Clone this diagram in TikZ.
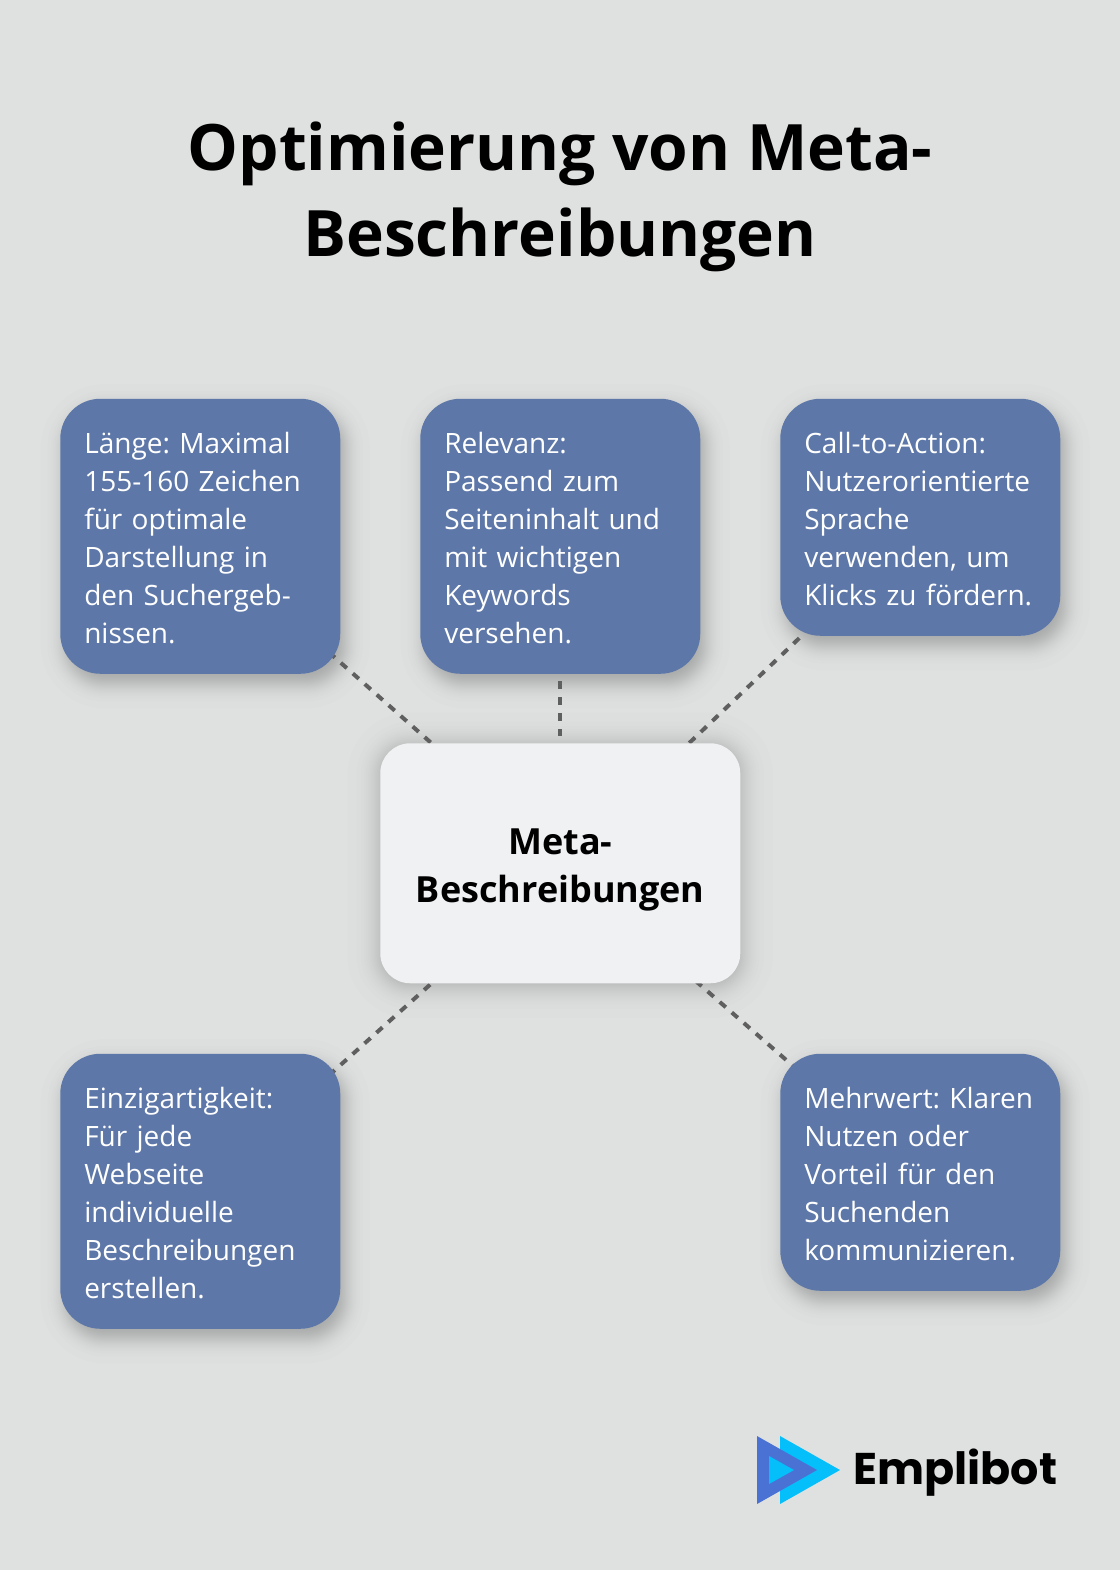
\documentclass[tikz,border=0pt]{standalone}
\usepackage{fontspec}
\setmainfont{Open Sans}
\newfontfamily\infofont{Open Sans}[WordSpace=0.75]
\newfontfamily\logofont{Poppins}
\usetikzlibrary{calc,backgrounds}
\definecolor{pagegrey}{HTML}{DFE1E0}
\definecolor{boxblue}{HTML}{5D77A8}
\definecolor{centerwhite}{HTML}{EFF1F3}
\definecolor{dashgrey}{HTML}{5F5F5F}
\definecolor{logoblue}{HTML}{4A72D4}
\definecolor{logocyan}{HTML}{04BFF9}
\tikzset{
	infobox/.style={fill=boxblue,text=white,rounded corners=30pt,anchor=north west,inner sep=0pt,
		minimum width=210pt,text width=174pt,align=left,font=\infofont\fontsize{21}{28.5}\selectfont\frenchspacing,
		execute at begin node=\rule{0pt}{18pt}},
	centerbox/.style={fill=centerwhite,rounded corners=22.5pt,anchor=north west,inner sep=0pt,
		minimum width=270pt,minimum height=180pt,align=center,font=\fontsize{27}{36}\selectfont\bfseries},
	titletext/.style={align=center,inner sep=0pt,font=\fontsize{48}{64}\selectfont\bfseries},
	linkline/.style={draw=dashgrey,line width=3pt,dash pattern=on 6pt off 6pt}
}
% node, shift x, shift y, corner radius, opacity of one layer, spread
\newcommand{\softshadow}[6]{
	\foreach \i in {1,...,30}{
		\pgfmathsetmacro{\k}{#6*ln((\i-0.5)/(30.5-\i))}
		\fill[black,opacity=#5,rounded corners={max(#4+0.75*\k,1)*1pt}]
			($(#1.south west)+(#2-\k,#3+\k)$) rectangle ($(#1.north east)+(#2+\k,#3-\k)$);
	}
}
\begin{document}
\begin{tikzpicture}[x=0.75pt,y=-0.75pt]
	\useasboundingbox (0,0) rectangle (1120,1570);
	\node[titletext] (title) at (560,197) {Optimierung von Meta-\\Beschreibungen};
	\node[infobox,minimum height=206.25pt] (laenge) at (60,398.5) {L\"ange: Maximal\\155-160 Zeichen\\f\"ur optimale\\Darstellung in\\den Suchergeb-\\nissen.};
	\node[infobox,minimum height=206.25pt] (relevanz) at (420,398.5) {Relevanz:\\Passend zum\\Seiteninhalt und\\mit wichtigen\\Keywords\\versehen.};
	\node[infobox,minimum height=177.75pt] (action) at (780,398.5) {Call-to-Action:\\Nutzerorientierte\\Sprache\\verwenden, um\\Klicks zu f\"ordern.};
	\node[centerbox] (meta) at (380,743) {\rule{0pt}{30pt}Meta-\\Beschreibungen};
	\node[infobox,minimum height=206.25pt] (einzig) at (60,1053.5) {Einzigartigkeit:\\F\"ur jede\\Webseite\\individuelle\\Beschreibungen\\erstellen.};
	\node[infobox,minimum height=177.75pt] (mehrwert) at (780,1053.5) {Mehrwert: Klaren\\Nutzen oder\\Vorteil f\"ur den\\Suchenden\\kommunizieren.};
	\begin{scope}[on background layer]
		\fill[pagegrey] (0,0) rectangle (1120,1570);
		\softshadow{meta}{0}{2}{22.5}{0.006}{8}
		\softshadow{laenge}{5}{10}{30}{0.0083}{6}
		\softshadow{relevanz}{5}{10}{30}{0.0083}{6}
		\softshadow{action}{5}{10}{30}{0.0083}{6}
		\softshadow{einzig}{5}{10}{30}{0.0083}{6}
		\softshadow{mehrwert}{5}{10}{30}{0.0083}{6}
		\draw[linkline,shorten <=-11.7pt] (laenge.-42.3) -- (meta.137.3);
		\draw[linkline,shorten >=5.25pt,shorten <=5.25pt] (relevanz.south) -- (meta.north);
		\draw[linkline] (meta.43.6) -- (action.-135.8);
		\draw[linkline,shorten <=-11.8pt] (einzig.42.2) -- (meta.-137.3);
		\draw[linkline,shorten <=-3pt,shorten >=-16pt] (meta.-41.2) -- (mehrwert.140.1);
	\end{scope}
	\fill[logocyan] (780,1436) -- (840,1470) -- (780,1504) -- cycle;
	\fill[logoblue] (757,1436) -- (817,1470) -- (757,1504) -- cycle;
	\fill[logocyan] (769,1456) -- (794,1470) -- (769,1484) -- cycle;
	\node[anchor=west,inner sep=0pt,font=\logofont\bfseries\fontsize{33.3}{40}\selectfont] (logo) at (853,1473) {Emplibot};
\end{tikzpicture}
\end{document}
